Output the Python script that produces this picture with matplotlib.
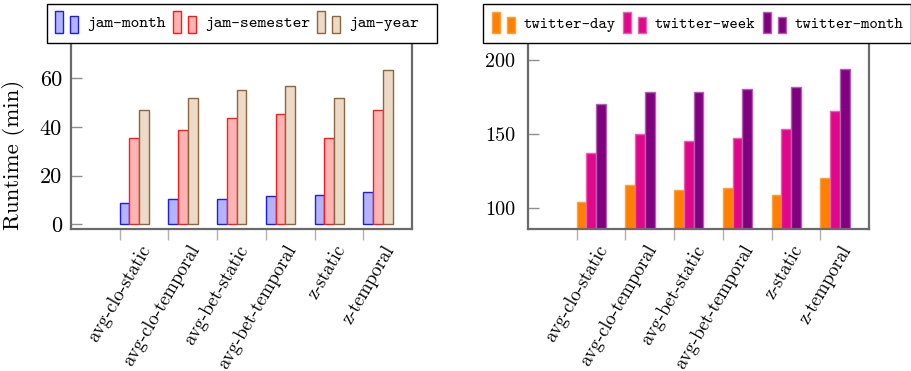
import matplotlib
matplotlib.use("Agg")
import matplotlib.pyplot as plt
import matplotlib.transforms as mtransforms
from matplotlib.legend_handler import HandlerBase
from matplotlib.patches import Rectangle
import numpy as np

categories = ["avg-clo-static", "avg-clo-temporal", "avg-bet-static",
              "avg-bet-temporal", "z-static", "z-temporal"]

jam_month = [8.8, 10.2, 10.4, 11.4, 12.1, 13.3]
jam_semester = [35.3, 38.6, 43.6, 45.3, 35.3, 46.9]
jam_year = [46.9, 51.9, 55.3, 56.9, 51.9, 63.5]

twitter_day = [103.8, 115.5, 112.2, 113.7, 108.8, 120.5]
twitter_week = [137.2, 150.4, 145.5, 147.3, 153.8, 165.5]
twitter_month = [170.5, 178.8, 178.8, 180.4, 182.2, 194.0]

jam_series = [
    ("jam-month", jam_month, "#b3b3ff", "#1a1aff"),
    ("jam-semester", jam_semester, "#ffb3b3", "#ff1a1a"),
    ("jam-year", jam_year, "#ecd9c6", "#8c6640"),
]
twitter_series = [
    ("twitter-day", twitter_day, "#ff8000", "#ffa040"),
    ("twitter-week", twitter_week, "#e0078a", "#e860b0"),
    ("twitter-month", twitter_month, "#800080", "#b060b0"),
]

RM = "cmr10"
TT = "cmtt10"
plt.rcParams["axes.formatter.use_mathtext"] = True
plt.rcParams["mathtext.fontset"] = "cm"


class TwoBarHandler(HandlerBase):
    # pgfplots-style ybar legend image: a tall bar and a shorter one (sizes in points)
    def create_artists(self, legend, orig_handle, xdescent, ydescent,
                       width, height, fontsize, trans):
        fc = orig_handle.get_facecolor()
        ec = orig_handle.get_edgecolor()
        x0 = -xdescent
        y0 = -ydescent - 1.5
        r1 = Rectangle((x0, y0), 5.8, 15.5, facecolor=fc, edgecolor=ec,
                       lw=1.0, transform=trans)
        r2 = Rectangle((x0 + 10.8, y0), 5.8, 12.0, facecolor=fc,
                       edgecolor=ec, lw=1.0, transform=trans)
        return [r1, r2]


fig = plt.figure(figsize=(9.12, 3.71), dpi=100)

ax1 = fig.add_axes([71 / 912, 1 - 229 / 371, 341 / 912, 186 / 371])
ax2 = fig.add_axes([528 / 912, 1 - 229 / 371, 341 / 912, 186 / 371])

x = np.arange(len(categories))
bar_w = 0.2


def draw(ax, series, ylim, yticks, ysize, ypad):
    handles, labels = [], []
    for k, (name, vals, fc, ec) in enumerate(series):
        bars = ax.bar(x + k * bar_w, vals, width=bar_w, align="edge",
                      facecolor=fc, edgecolor=ec, linewidth=1.0)
        handles.append(bars.patches[0])
        labels.append(name)
    ax.set_xlim(-1, 6)
    ax.set_ylim(*ylim)
    ax.set_yticks(yticks)
    ax.set_yticklabels([str(t) for t in yticks], fontfamily=RM, fontsize=ysize)
    ax.set_xticks(x)
    ax.set_xticklabels(categories, fontfamily=RM, fontsize=13.5, rotation=60,
                       ha="right", va="center", rotation_mode="anchor")
    ax.tick_params(axis="x", direction="out", length=8, width=1.0,
                   color="#b0b0b0", pad=4.5)
    ax.tick_params(axis="y", direction="in", length=8, width=1.0,
                   color="#909090", pad=ypad)
    # nudge the rotated category labels to the right of their ticks
    offset = mtransforms.ScaledTranslation(27 / 100, 0, fig.dpi_scale_trans)
    for lab in ax.get_xticklabels():
        lab.set_transform(lab.get_transform() + offset)
    for side in ("left", "right", "bottom"):
        ax.spines[side].set_color("#6a6a6a")
        ax.spines[side].set_linewidth(1.6)
    ax.spines["top"].set_visible(False)
    return handles, labels


h1, l1 = draw(ax1, jam_series, (-2.0, 74.5), [0, 20, 40, 60], 16, 6.5)
h2, l2 = draw(ax2, twitter_series, (85.8, 211.7), [100, 150, 200], 14.5, 9.4)

ax1.set_ylabel("Runtime (min)", fontfamily=RM, fontsize=16.5)
ax1.yaxis.set_label_coords(-0.135, 0.40)


def add_legend(handles, labels, left_px, width_px, size, pad):
    # legend box drawn separately so it can be wider than its entries
    box = Rectangle((left_px / 912, 1 - 43 / 371), width_px / 912, 39 / 371,
                    transform=fig.transFigure, facecolor="white",
                    edgecolor="black", linewidth=1.0, zorder=4)
    fig.add_artist(box)
    leg = fig.legend(handles, labels, ncol=3, loc="upper left",
                     bbox_to_anchor=(left_px / 912, 1 - 4.5 / 371),
                     borderaxespad=0, frameon=False, borderpad=pad,
                     handlelength=16.6 / size, handleheight=15.5 / size,
                     handletextpad=6.5 / size,
                     columnspacing=5.0 / size,
                     handler_map={Rectangle: TwoBarHandler()},
                     prop={"family": TT, "size": size})
    leg.set_zorder(5)
    return leg


add_legend(h1, l1, 47, 390, 12, 0.5)
add_legend(h2, l2, 483, 428, 11.5, 0.55)

fig.savefig("out.png", dpi=100)
